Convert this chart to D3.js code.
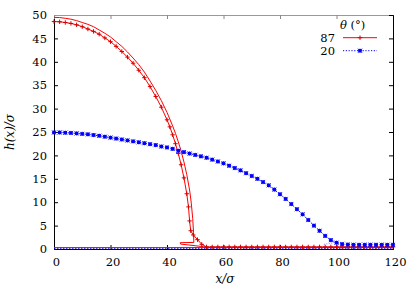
<!DOCTYPE html>
<html><head><meta charset="utf-8">
<script src="https://cdn.jsdelivr.net/npm/d3@7"></script>
<style>html,body{margin:0;padding:0;background:#fff;}svg{display:block;}</style>
</head><body>
<script>
// ---- data ----
const xTicks = [0, 20, 40, 60, 80, 100, 120];
const yTicks = [0, 5, 10, 15, 20, 25, 30, 35, 40, 45, 50];
const legendLabels = ["87", "20"];

// theta = 20 deg profile (points with markers)
const blueX = [0,2,4,6,8,10,12,14,16,18,20,22,24,26,28,30,32,34,36,38,40,42,44,46,48,50,52,54,56,58,60,62,64,66,68,70,72,74,76,78,80,82,84,86,88,90,92,94,96,98,100,102,104,106,108,110,112,114,116,118,120];
const blueH = [24.9,24.9,24.85,24.8,24.7,24.6,24.5,24.35,24.2,24.0,23.8,23.6,23.4,23.2,23.0,22.8,22.6,22.4,22.2,21.9,21.7,21.4,21.0,20.7,20.4,20.1,19.8,19.5,19.1,18.7,18.3,17.8,17.3,16.8,16.2,15.6,15.0,14.3,13.6,12.7,11.7,10.7,9.6,8.5,7.4,6.2,5.0,3.9,2.8,1.9,1.35,1.05,0.95,0.9,0.9,0.9,0.9,0.9,0.9,0.9,0.9];
const blueFootX = [95.5, 98, 100];
const blueFootH = [1.0, 1.2, 1.5];
const blueBaseX = [0, 120];
const blueBaseH = [0.2, 0.2];

// theta = 87 deg profile: outer contour (plain line)
const redOuterX = [0,2,4,6,8,10,12,14,16,18,20,22,24,26,28,30,32,34,36,38,40,42,43,44,45,46,47,48,48.6,49.1,49.4,49.5,44.7,44.8,52.9,54,120];
const redOuterH = [49.5,49.45,49.3,49.1,48.8,48.4,48.0,47.5,46.8,46.1,45.3,44.3,43.3,42.1,40.8,39.4,37.8,35.9,33.9,31.7,29.2,26.3,24.7,22.9,20.9,18.6,15.9,12.6,9.8,6.5,3.5,1.4,1.35,1.05,0.5,0.35,0.35];
// inner contour (line with markers)
const redInnerX = [0,2,4,6,8,10,12,14,16,18,20,22,24,26,28,30,32,34,36,38,40,41,42,43,44,45,46,47,47.6,48.0,48.4,49.3,50.8,52.3,54,56,58,60,62,64,66,68,70,72,74,76,78,80,82,84,86,88,90,92,94,96,98,100,102,104,106,108,110,112,114,116,118,120];
const redInnerH = [48.6,48.55,48.4,48.2,47.9,47.5,47.0,46.5,45.9,45.1,44.3,43.3,42.2,41.0,39.7,38.2,36.6,34.7,32.6,30.3,27.6,26.1,24.4,22.5,20.4,18.0,15.2,11.8,9.0,6.0,3.9,3.0,2.0,1.0,0.45,0.45,0.45,0.45,0.45,0.45,0.45,0.45,0.45,0.45,0.45,0.45,0.45,0.45,0.45,0.45,0.45,0.45,0.45,0.45,0.45,0.45,0.45,0.45,0.45,0.45,0.45,0.45,0.45,0.45,0.45,0.45,0.45,0.45];
const redBaseX = [0, 120];
const redBaseH = [0.3, 0.3];

// ---- chart ----
const W = 415, H = 291;
const L = 54, R = 393, T = 15, B = 249;
const RED = "#ff0000", BLUE = "#0000ff";
const FONT = "DejaVu Serif";

const svg = d3.select("body").append("svg").attr("width", W).attr("height", H)
  .attr("font-family", FONT);

const x = d3.scaleLinear().domain([0, 120]).range([L, R]);
const y = d3.scaleLinear().domain([0, 50]).range([B, T]);

const zip = (xs, hs) => xs.map((v, i) => [v, hs[i]]);
const line = d3.line().x(d => x(d[0])).y(d => y(d[1]));

// axes: inward ticks
const axB = svg.append("g").attr("transform", `translate(0,${B})`)
  .call(d3.axisBottom(x).tickValues(xTicks).tickSize(-4).tickPadding(9).tickFormat(d3.format("d")));
const axL = svg.append("g").attr("transform", `translate(${L},0)`)
  .call(d3.axisLeft(y).tickValues(yTicks).tickSize(-4).tickPadding(7).tickFormat(d3.format("d")));
const axT = svg.append("g").attr("transform", `translate(0,${T})`)
  .call(d3.axisTop(x).tickValues(xTicks).tickSize(-4).tickFormat(""));
const axR = svg.append("g").attr("transform", `translate(${R},0)`)
  .call(d3.axisRight(y).tickValues(yTicks).tickSize(-4).tickFormat(""));

[axB, axL, axT, axR].forEach(g => {
  g.attr("font-family", FONT);
  g.selectAll("text").attr("font-size", 11.5).attr("fill", "#000");
  g.selectAll("line").attr("stroke", "#000");
  g.select(".domain").attr("stroke", "#000");
});
axT.selectAll("line").attr("stroke", "#888");
axT.select(".domain").attr("stroke", "#999");
axB.selectAll(".tick text").attr("dx", 2);

// data lines
const gData = svg.append("g");
gData.append("path").datum(zip(blueBaseX, blueBaseH)).attr("d", line)
  .attr("fill", "none").attr("stroke", BLUE).attr("stroke-width", 1.2).attr("stroke-dasharray", "1.5,1.5");
gData.append("path").datum(zip(redBaseX, redBaseH)).attr("d", line)
  .attr("fill", "none").attr("stroke", RED).attr("stroke-width", 1);
gData.append("path").datum(zip(blueFootX, blueFootH)).attr("d", line)
  .attr("fill", "none").attr("stroke", "#7f7fff").attr("stroke-width", 1).attr("stroke-dasharray", "1,1.5");
gData.append("path").datum(zip(blueX, blueH)).attr("d", line)
  .attr("fill", "none").attr("stroke", BLUE).attr("stroke-width", 1).attr("stroke-dasharray", "1.2,1.6");
gData.append("path").datum(zip(redOuterX, redOuterH)).attr("d", line)
  .attr("fill", "none").attr("stroke", RED).attr("stroke-width", 1);
gData.append("path").datum(zip(redInnerX, redInnerH)).attr("d", line)
  .attr("fill", "none").attr("stroke", RED).attr("stroke-width", 1);

function plus(g, cx, cy, s, col) {
  g.append("path").attr("d", `M${cx - s},${cy}H${cx + s}M${cx},${cy - s}V${cy + s}`)
    .attr("stroke", col).attr("stroke-width", 1).attr("fill", "none");
}
function star(g, cx, cy, s, col) {
  g.append("rect").attr("x", cx - s * 0.8).attr("y", cy - s * 0.8).attr("width", s * 1.6).attr("height", s * 1.6)
    .attr("fill", col);
  g.append("path").attr("d", `M${cx - s},${cy}H${cx + s}M${cx},${cy - s}V${cy + s}M${cx - s},${cy - s}L${cx + s},${cy + s}M${cx - s},${cy + s}L${cx + s},${cy - s}`)
    .attr("stroke", col).attr("stroke-width", 0.8).attr("fill", "none");
}
const gPts = svg.append("g");
zip(redInnerX, redInnerH).forEach(d => plus(gPts, x(d[0]), y(d[1]), 2.2, "#d00000"));
zip(blueX, blueH).forEach(d => star(gPts, x(d[0]), y(d[1]), 2.1, BLUE));

// axis titles
svg.append("text").attr("transform", `translate(14,132) rotate(-90)`)
  .attr("text-anchor", "middle").attr("font-size", 12).attr("font-style", "italic")
  .text("h(x)/σ");
svg.append("text").attr("x", 225).attr("y", 283).attr("text-anchor", "middle")
  .attr("font-size", 12).attr("font-style", "italic").text("x/σ");

// legend
const lg = svg.append("g");
const th = lg.append("text").attr("x", 340).attr("y", 29).attr("font-size", 11.5);
th.append("tspan").attr("font-style", "italic").text("θ");
th.append("tspan").text(" (°)");
const rows = [{ lab: legendLabels[0], col: RED, y: 37.7 }, { lab: legendLabels[1], col: BLUE, y: 50.7 }];
rows.forEach((r, i) => {
  lg.append("text").attr("x", 335).attr("y", r.y + 4).attr("text-anchor", "end").attr("font-size", 11.5).text(r.lab);
  const ln = lg.append("line").attr("x1", 343).attr("x2", 377).attr("y1", r.y).attr("y2", r.y)
    .attr("stroke", r.col).attr("stroke-width", 1);
  if (i === 1) ln.attr("stroke-dasharray", "1.2,1.6");
  if (i === 0) plus(lg, 360, r.y, 2.2, "#d00000"); else star(lg, 360, r.y, 2.1, BLUE);
});
</script>
</body></html>
